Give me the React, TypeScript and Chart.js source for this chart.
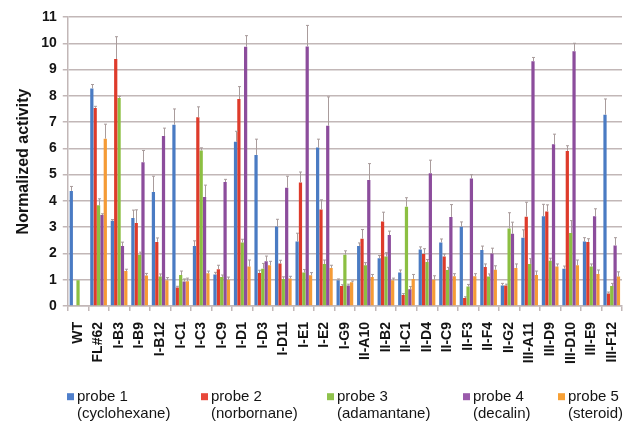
import React, { useEffect, useRef } from "react";
import { Chart, registerables } from "chart.js";

Chart.register(...registerables);

const categories = [
  "WT", "FL#62", "I-B3", "I-B9", "I-B12", "I-C1", "I-C3", "I-C9", "I-D1", "I-D3",
  "I-D11", "I-E1", "I-E2", "I-G9", "II-A10", "II-B2", "II-C1", "II-D4", "II-C9",
  "II-F3", "II-F4", "II-G2", "III-A11", "III-D9", "III-D10", "III-E9", "III-F12",
];

const probe1 = [4.38, 8.28, 3.24, 3.35, 4.34, 6.9, 2.28, 1.2, 6.25, 5.75, 3.03, 2.45, 6.03, 0.98, 2.28, 1.82, 1.27, 2.15, 2.42, 3.02, 2.13, 0.78, 2.6, 3.42, 1.42, 2.45, 7.28];
const probe2 = [null, 7.54, 9.4, 3.16, 2.44, 0.7, 7.18, 1.4, 7.88, 1.26, 1.62, 4.7, 3.67, 0.76, 2.56, 3.22, 0.42, 1.98, 1.88, 0.3, 1.48, 0.78, 3.4, 3.6, 5.9, 2.44, 0.48];
const probe3 = [0.98, 3.83, 7.92, 1.95, 1.12, 1.18, 5.92, 1.1, 2.42, 1.42, 1.03, 1.27, 1.6, 1.95, 1.55, 1.88, 3.78, 1.67, 1.37, 0.74, 1.12, 2.95, 1.6, 1.72, 2.78, 1.5, 0.76];
const probe4 = [null, 3.46, 2.28, 5.47, 6.47, 0.93, 4.15, 4.72, 9.87, 1.7, 4.5, 9.88, 6.86, 0.78, 4.8, 2.7, 0.64, 5.05, 3.39, 4.85, 2.0, 2.75, 9.32, 6.16, 9.7, 3.42, 2.3];
const probe5 = [null, 6.37, 1.33, 1.16, 0.98, 0.94, 1.25, 1.0, 1.5, 1.55, 1.05, 1.17, 1.45, 0.9, 1.1, 0.98, 1.03, 1.0, 1.13, 1.13, 1.38, 1.45, 1.18, 1.5, 1.55, 1.22, 1.12];

const err1 = [0.17, 0.15, 0.05, 0.3, 0.6, 0.6, 0.2, 0.08, 0.4, 0.6, 0.27, 0.32, 0.32, 0.05, 0.12, 0.1, 0.1, 0.1, 0.13, 0.18, 0.15, 0.08, 0.3, 0.45, 0.1, 0.15, 0.6];
const err2 = [0, 0.06, 0.85, 0.5, 0.15, 0.05, 0.4, 0.15, 0.47, 0.1, 0.12, 0.4, 0.37, 0.05, 0.35, 0.35, 0.05, 0.2, 0.1, 0.05, 0.12, 0.05, 0.55, 0.25, 0.2, 0.12, 0.05];
const err3 = [0, 0.25, 0.06, 0.1, 0.1, 0.15, 0.1, 0.08, 0.12, 0.2, 0.08, 0.12, 0.15, 0.15, 0.1, 0.15, 0.34, 0.1, 0.1, 0.08, 0.1, 0.6, 0.2, 0.1, 0.47, 0.1, 0.1];
const err4 = [0, 0.05, 0.15, 0.45, 0.3, 0.1, 0.45, 0.1, 0.42, 0.2, 0.44, 0.8, 1.1, 0.05, 0.62, 0.15, 0.1, 0.5, 0.47, 0.15, 0.2, 0.44, 0.14, 0.38, 0.3, 0.28, 0.3];
const err5 = [0, 0.55, 0.07, 0.08, 0.1, 0.12, 0.08, 0.1, 0.25, 0.15, 0.08, 0.1, 0.1, 0.05, 0.1, 0.08, 0.17, 0.15, 0.1, 0.1, 0.15, 0.15, 0.15, 0.1, 0.2, 0.15, 0.18];

const probeNames = ["probe 1", "probe 2", "probe 3", "probe 4", "probe 5"];
const probeSubstrates = ["(cyclohexane)", "(norbornane)", "(adamantane)", "(decalin)", "(steroid)"];
const yAxisTitle = "Normalized activity";
const yMin = 0;
const yMax = 11;
const yStep = 1;

// styles
const COLORS = ["#4a7bc3", "#de3b2b", "#8cbf42", "#8c4d9c", "#f59b36"];
const LEGEND_COLORS = ["#4f7fcb", "#e8483a", "#8fc24c", "#9a5aab", "#f7a035"];
const GRID = "#c2b7b7";
const TEXT = "#141414";
const FONT = "'Liberation Sans', Arial, Helvetica, sans-serif";
const LEGEND_X = [67, 201, 327, 463, 558];

const errorBarPlugin = {
  id: "errorBars",
  afterDatasetsDraw(chart: any) {
    const ctx = chart.ctx;
    const yScale = chart.scales.y;
    ctx.save();
    ctx.strokeStyle = "#a99c9c";
    ctx.lineWidth = 1;
    chart.data.datasets.forEach((ds: any, di: number) => {
      const meta = chart.getDatasetMeta(di);
      meta.data.forEach((bar: any, i: number) => {
        const v = ds.data[i];
        const e = ds.errors ? ds.errors[i] : 0;
        if (v == null || !e) return;
        const x = Math.round(bar.x) + 0.5;
        const top = yScale.getPixelForValue(v + e);
        ctx.beginPath();
        ctx.moveTo(x, bar.y);
        ctx.lineTo(x, top);
        ctx.moveTo(x - 1.5, top);
        ctx.lineTo(x + 1.5, top);
        ctx.stroke();
      });
    });
    ctx.restore();
  },
};

const legendPlugin = {
  id: "customLegend",
  afterDraw(chart: any) {
    const ctx = chart.ctx;
    const h = chart.height;
    const y1 = h - 25.3;
    const y2 = h - 7.7;
    ctx.save();
    ctx.font = `15px ${FONT}`;
    ctx.textBaseline = "middle";
    ctx.textAlign = "left";
    chart.data.datasets.forEach((ds: any, i: number) => {
      const x = LEGEND_X[i];
      ctx.fillStyle = LEGEND_COLORS[i];
      ctx.fillRect(x, y1 - 3.5, 7, 7);
      ctx.fillStyle = TEXT;
      ctx.fillText(probeNames[i], x + 10, y1);
      ctx.fillText(probeSubstrates[i], x + 10, y2);
    });
    ctx.restore();
  },
};

export default function App() {
  const canvasRef = useRef<HTMLCanvasElement | null>(null);

  useEffect(() => {
    if (!canvasRef.current) return;
    const series = [probe1, probe2, probe3, probe4, probe5];
    const errs = [err1, err2, err3, err4, err5];
    const chart = new Chart(canvasRef.current, {
      type: "bar",
      data: {
        labels: categories,
        datasets: series.map((d, i) => ({
          label: `${probeNames[i]} ${probeSubstrates[i]}`,
          data: d,
          errors: errs[i],
          backgroundColor: COLORS[i],
          borderWidth: 0,
          categoryPercentage: 0.82,
          barPercentage: 0.96,
        })) as any,
      },
      options: {
        animation: false,
        responsive: true,
        maintainAspectRatio: false,
        layout: { padding: { left: 8, right: 6, top: 17, bottom: 47 } },
        plugins: {
          legend: { display: false },
          tooltip: { enabled: false },
        },
        scales: {
          x: {
            offset: true,
            afterFit(scale: any) {
              scale.paddingRight = 0;
              scale.paddingLeft = 0;
            },
            grid: {
              display: true,
              drawOnChartArea: false,
              drawTicks: true,
              tickLength: 5,
              color: GRID,
              lineWidth: 1.5,
            },
            border: { display: true, color: GRID, width: 1.5 },
            ticks: {
              autoSkip: false,
              maxRotation: 90,
              minRotation: 90,
              padding: 11,
              color: TEXT,
              font: { family: FONT, size: 14, weight: "bold" },
            },
          },
          y: {
            min: yMin,
            max: yMax,
            grid: {
              color: GRID,
              lineWidth: 1.5,
              drawTicks: true,
              tickLength: 5,
            },
            border: { display: true, color: GRID, width: 1.5 },
            ticks: {
              stepSize: yStep,
              padding: 6,
              color: TEXT,
              font: { family: FONT, size: 14, weight: "bold" },
            },
            title: {
              display: true,
              text: yAxisTitle,
              color: TEXT,
              padding: { top: 6, bottom: 2 },
              font: { family: FONT, size: 16, weight: "bold" },
            },
          },
        },
      } as any,
      plugins: [errorBarPlugin, legendPlugin],
    });
    return () => chart.destroy();
  }, []);

  return (
    <div style={{ position: "fixed", left: 0, top: 0, width: 628, height: 422, background: "#fff" }}>
      <canvas ref={canvasRef} />
    </div>
  );
}
